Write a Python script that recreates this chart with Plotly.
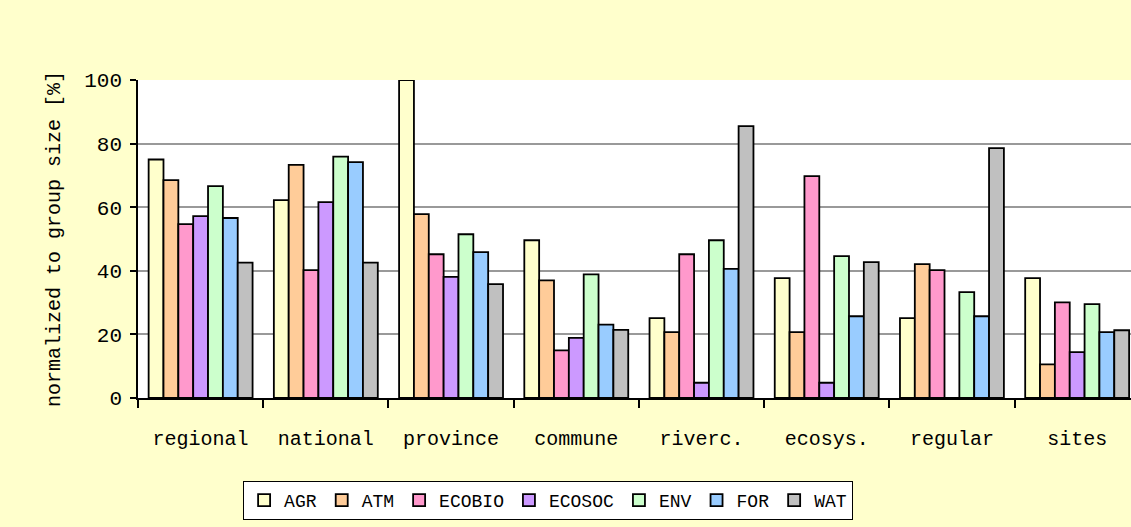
import plotly.graph_objects as go

# Groups along the x axis
categories = ["regional", "national", "province", "commune",
              "riverc.", "ecosys.", "regular", "sites"]

# Share of each group (normalized to group size, %)
agr    = [75.0, 62.2, 100.0, 49.6, 25.1, 37.7, 25.1, 37.7]
atm    = [68.5, 73.3, 57.8, 37.0, 20.7, 20.7, 42.1, 10.6]
ecobio = [54.7, 40.2, 45.2, 15.0, 45.2, 69.8, 40.2, 30.1]
ecosoc = [57.2, 61.6, 38.1, 18.9, 4.8, 4.8, 0.0, 14.4]
env    = [66.6, 75.9, 51.5, 38.9, 49.6, 44.6, 33.3, 29.5]
forest = [56.6, 74.2, 45.9, 23.1, 40.6, 25.7, 25.7, 20.7]
wat    = [42.6, 42.6, 35.8, 21.4, 85.5, 42.7, 78.6, 21.3]

series_names = ["AGR", "ATM", "ECOBIO", "ECOSOC", "ENV", "FOR", "WAT"]
series_values = [agr, atm, ecobio, ecosoc, env, forest, wat]
series_colors = ["#FFFFCC", "#FFCC99", "#FF99CC", "#CC99FF",
                 "#CCFFCC", "#99CCFF", "#C0C0C0"]

FONT = "Liberation Mono, Courier New, monospace"

fig = go.Figure()
for name, vals, col in zip(series_names, series_values, series_colors):
    fig.add_trace(go.Bar(
        x=categories, y=vals, name=name,
        marker=dict(color=col, line=dict(color="black", width=1.8)),
    ))

fig.update_layout(
    width=1131, height=527,
    margin=dict(l=138, r=0, t=80, b=129),
    paper_bgcolor="#FFFFCC",
    plot_bgcolor="white",
    barmode="group",
    bargap=0.17,
    bargroupgap=0,
    font=dict(family=FONT, size=20, color="black"),
    legend=dict(
        orientation="h",
        x=0.413, xanchor="center",
        y=-0.261, yanchor="top",
        bgcolor="white",
        bordercolor="black",
        borderwidth=1,
        font=dict(family=FONT, size=18, color="black"),
        itemwidth=30,
        traceorder="normal",
    ),
    xaxis=dict(
        type="category",
        range=[-0.5, 7.43],
        showline=True, linecolor="black", linewidth=1.5,
        ticks="outside", tickson="boundaries", ticklen=8,
        tickcolor="black", tickwidth=1.5,
        showgrid=False,
        ticklabelstandoff=21,
        tickfont=dict(family=FONT, size=20),
    ),
    yaxis=dict(
        range=[0, 100],
        tickvals=[0, 20, 40, 60, 80, 100],
        showline=True, linecolor="black", linewidth=1.5,
        ticks="outside", ticklen=6, tickcolor="black", tickwidth=1.5,
        showgrid=True, gridcolor="#999999", gridwidth=1.5,
        zeroline=False,
        ticklabelstandoff=4,
        tickfont=dict(family=FONT, size=21),
        title=dict(text="normalized to group size [%]",
                   font=dict(family=FONT, size=20), standoff=18),
    ),
)

fig.write_html("out.html")
